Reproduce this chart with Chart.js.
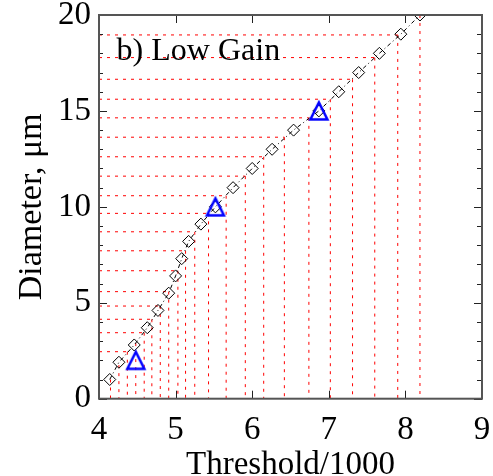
<!DOCTYPE html>
<html>
<head>
<meta charset="utf-8">
<script src="https://cdn.jsdelivr.net/npm/chart.js@4.4.1/dist/chart.umd.min.js"></script>
<style>
  html, body { margin: 0; padding: 0; background: #fff; }
  #wrap { width: 493px; height: 476px; }
</style>
</head>
<body>
<div id="wrap"><canvas id="lowGain" width="493" height="476"></canvas></div>
<script>
// Diamonds on the dash-dot curve
const diamX = [4.14, 4.26, 4.46, 4.63, 4.77, 4.91, 5.00, 5.08, 5.17, 5.33, 5.52, 5.75, 6.00, 6.26, 6.54, 6.87, 7.13, 7.39, 7.66, 7.94, 8.19];
const diamY = [1.0, 1.9, 2.8, 3.7, 4.6, 5.5, 6.4, 7.3, 8.2, 9.1, 10, 11, 12, 13, 14, 15, 16, 17, 18, 19, 20];
// Blue triangles
const triX = [4.48, 5.52, 6.87];
const triY = [2, 10, 15];
// Red dotted horizontals: y value and where they stop on x
const hLineY = [18.96, 17.78, 16.65, 15.61, 14.64, 13.63, 12.61, 11.60, 10.58, 9.66, 8.70, 7.71, 6.67, 5.58, 4.83, 4.14, 3.44, 2.45];
const hLineXEnd = [7.90, 7.60, 7.31, 7.02, 6.74, 6.42, 6.15, 5.91, 5.66, 5.43, 5.25, 5.13, 5.03, 4.91, 4.80, 4.69, 4.59, 4.37];
// Red dotted verticals: x value and where they stop on y
const vLineX = [8.19, 7.90, 7.60, 7.31, 7.02, 6.74, 6.42, 6.15, 5.91, 5.66, 5.43, 5.25, 5.13, 5.03, 4.91, 4.80, 4.69, 4.59, 4.48, 4.37, 4.26, 4.15];
const vLineYTop = [20, 18.96, 17.78, 16.65, 15.61, 14.64, 13.63, 12.61, 11.60, 10.58, 9.66, 8.70, 7.71, 6.67, 5.58, 4.83, 4.14, 3.44, 2.9, 2.45, 1.75, 1.0];
// Axis ticks
const xTicks = [4, 5, 6, 7, 8, 9];
const yTicks = [0, 5, 10, 15, 20];
const yMinorTicks = [1, 2, 3, 4, 6, 7, 8, 9, 11, 12, 13, 14, 16, 17, 18, 19];

const serif = "'Liberation Serif', 'Times New Roman', serif";

// ::::: Triangle marker (centred on its box like the original) :::::
function makeTriangle() {
    let c = document.createElement("canvas");
    c.width = 24;
    c.height = 24;
    let g = c.getContext("2d");
    g.strokeStyle = "#0000ff";
    g.lineWidth = 2.5;
    g.beginPath();
    g.moveTo(3.5, 20.5);
    g.lineTo(12, 3.5);
    g.lineTo(20.5, 20.5);
    g.closePath();
    g.stroke();
    return c;
}

// ::::: Build the datasets :::::
let datasets = [];

datasets.push({
    label: "triangles",
    data: triX.map((x, i) => ({x: x, y: triY[i]})),
    showLine: false,
    pointStyle: makeTriangle(),
    pointRadius: 10
});

datasets.push({
    label: "curve",
    data: diamX.map((x, i) => ({x: x, y: diamY[i]})),
    showLine: true,
    borderColor: "#000",
    borderWidth: 1,
    borderDash: [4, 3, 1, 3],
    pointStyle: "rectRot",
    pointRadius: 6,
    pointBorderColor: "#000",
    pointBorderWidth: 1,
    pointBackgroundColor: "rgba(0,0,0,0)"
});

hLineY.forEach((y, i) => {
    datasets.push({
        label: "h" + i,
        data: [{x: 4, y: y}, {x: hLineXEnd[i], y: y}],
        showLine: true,
        borderColor: "#ff0000",
        borderWidth: 1,
        borderDash: [3, 5],
        pointRadius: 0
    });
});

vLineX.forEach((x, i) => {
    datasets.push({
        label: "v" + i,
        data: [{x: x, y: vLineYTop[i]}, {x: x, y: 0}],
        showLine: true,
        borderColor: "#ff0000",
        borderWidth: 1,
        borderDash: [3, 5],
        pointRadius: 0
    });
});

// ::::: Frame, inward ticks and the panel label :::::
const framePlugin = {
    id: "framePlugin",
    afterDraw(chart) {
        const ctx = chart.ctx;
        const a = chart.chartArea;
        const xs = chart.scales.x;
        const ys = chart.scales.y;
        ctx.save();
        // ticks
        ctx.strokeStyle = "#222";
        ctx.lineWidth = 1;
        ctx.beginPath();
        xTicks.forEach(v => {
            let px = Math.round(xs.getPixelForValue(v)) + 0.5;
            ctx.moveTo(px, a.bottom);
            ctx.lineTo(px, a.bottom - 8);
            ctx.moveTo(px, a.top);
            ctx.lineTo(px, a.top + 8);
        });
        yTicks.forEach(v => {
            let py = Math.round(ys.getPixelForValue(v)) + 0.5;
            ctx.moveTo(a.left, py);
            ctx.lineTo(a.left + 8, py);
            ctx.moveTo(a.right, py);
            ctx.lineTo(a.right - 8, py);
        });
        yMinorTicks.forEach(v => {
            let py = Math.round(ys.getPixelForValue(v)) + 0.5;
            ctx.moveTo(a.left, py);
            ctx.lineTo(a.left + 4, py);
            ctx.moveTo(a.right, py);
            ctx.lineTo(a.right - 5, py);
        });
        ctx.stroke();
        // frame
        ctx.strokeStyle = "#555";
        ctx.lineWidth = 2;
        ctx.strokeRect(a.left, a.top, a.right - a.left, a.bottom - a.top);
        // panel label
        ctx.fillStyle = "#000";
        ctx.font = "32px " + serif;
        ctx.textAlign = "left";
        ctx.textBaseline = "alphabetic";
        ctx.fillText("b) Low Gain", xs.getPixelForValue(4.23), ys.getPixelForValue(17.64));
        ctx.restore();
    }
};

// ::::: The chart :::::
const ctx = document.getElementById("lowGain");
const lowGainChart = new Chart(ctx, {
    type: "scatter",
    data: { datasets: datasets },
    options: {
        responsive: false,
        animation: false,
        events: [],
        layout: {
            padding: { top: 15, right: 9.5, left: 0, bottom: 0 }
        },
        scales: {
            x: {
                type: "linear",
                min: 4,
                max: 9,
                afterBuildTicks: (scale) => {
                    scale.ticks = xTicks.map(v => ({value: v}));
                },
                afterFit: (scale) => {
                    scale.height = 77.3;
                    scale.paddingLeft = 0;
                    scale.paddingRight = 0;
                },
                ticks: {
                    color: "#000",
                    padding: 12,
                    maxRotation: 0,
                    font: { family: serif, size: 33 }
                },
                grid: { display: false, drawTicks: false },
                border: { display: false },
                title: {
                    display: true,
                    text: "Threshold/1000",
                    color: "#000",
                    padding: { top: 0, bottom: -3 },
                    font: { family: serif, size: 33, lineHeight: 0.8 }
                }
            },
            y: {
                type: "linear",
                min: 0,
                max: 20,
                afterBuildTicks: (scale) => {
                    scale.ticks = yTicks.map(v => ({value: v}));
                },
                afterFit: (scale) => {
                    scale.width = 99;
                    scale.paddingTop = 0;
                    scale.paddingBottom = 0;
                },
                ticks: {
                    color: "#000",
                    padding: 8,
                    font: { family: serif, size: 33 }
                },
                grid: { display: false, drawTicks: false },
                border: { display: false },
                title: {
                    display: true,
                    text: "Diameter, μm",
                    color: "#000",
                    padding: { top: 18, bottom: 0 },
                    font: { family: serif, size: 34, lineHeight: 0.8 }
                }
            }
        },
        plugins: {
            legend: { display: false },
            tooltip: { enabled: false }
        }
    },
    plugins: [framePlugin]
});
</script>
</body>
</html>
